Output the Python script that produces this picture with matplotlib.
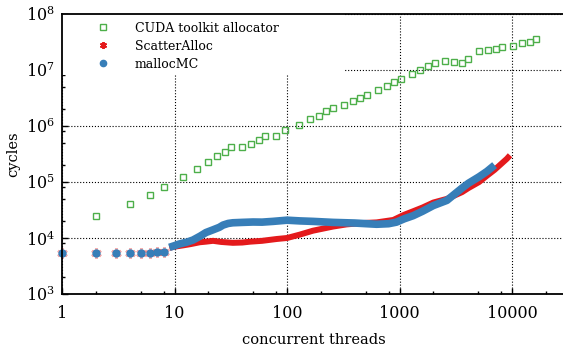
import matplotlib
matplotlib.use("Agg")
import matplotlib.pyplot as plt
import matplotlib.ticker as mticker
from matplotlib.patches import Rectangle

plt.rcParams["font.family"] = "DejaVu Serif"
plt.rcParams["mathtext.fontset"] = "dejavuserif"

# ── Daten ────────────────────────────────────────────────────────────────────
cuda_threads = [2, 4, 6, 8, 12, 16, 20, 24, 28, 32, 40, 48, 56, 64, 80, 96,
                128, 160, 192, 224, 256, 320, 384, 448, 512, 640, 768, 896,
                1024, 1280, 1536, 1792, 2048, 2560, 3072, 3584, 4096, 5120,
                6144, 7168, 8192, 10240, 12288, 14336, 16384]
cuda_cycles = [2.5e4, 4.0e4, 5.9e4, 8.2e4, 1.24e5, 1.7e5, 2.25e5, 2.9e5, 3.5e5,
               4.2e5, 4.3e5, 4.7e5, 5.6e5, 6.5e5, 6.7e5, 8.5e5, 1.05e6, 1.33e6,
               1.53e6, 1.88e6, 2.1e6, 2.37e6, 2.83e6, 3.2e6, 3.6e6, 4.4e6,
               5.2e6, 6.2e6, 6.9e6, 8.5e6, 1.01e7, 1.18e7, 1.35e7, 1.44e7,
               1.41e7, 1.32e7, 1.59e7, 2.2e7, 2.3e7, 2.4e7, 2.6e7, 2.7e7,
               3.0e7, 3.2e7, 3.6e7]

# einzelne Punkte bei wenigen Threads
low_threads = [1, 2, 3, 4, 5, 6, 7, 8]
scatter_low = [5.5e3, 5.5e3, 5.5e3, 5.5e3, 5.5e3, 5.5e3, 5.6e3, 5.7e3]
malloc_low = [5.5e3, 5.5e3, 5.5e3, 5.5e3, 5.5e3, 5.5e3, 5.6e3, 5.7e3]

# dichter Bereich ab ~9 Threads
scatter_threads = [9, 10, 12, 14, 16.8, 19, 22, 26, 33, 40, 47, 60, 81, 100,
                   130, 170, 256, 339, 470, 626, 880, 1100, 1320, 1600, 2000,
                   2640, 3000, 3600, 4100, 5100, 6000, 7000, 8000, 9000, 9600]
scatter_cycles = [6.7e3, 7.0e3, 7.4e3, 7.8e3, 8.4e3, 8.6e3, 8.9e3, 8.5e3, 8.2e3,
                  8.3e3, 8.6e3, 8.9e3, 9.6e3, 1.0e4, 1.15e4, 1.35e4, 1.6e4,
                  1.75e4, 1.85e4, 1.9e4, 2.1e4, 2.6e4, 3.0e4, 3.5e4, 4.3e4,
                  5.0e4, 5.6e4, 6.6e4, 7.8e4, 1.0e5, 1.3e5, 1.65e5, 2.1e5,
                  2.6e5, 3.0e5]

malloc_threads = [9, 10, 11, 12.8, 14.6, 16.9, 19, 22, 25, 27, 30, 33, 40, 50,
                  60, 75, 100, 130, 170, 256, 400, 626, 800, 940, 1100, 1320,
                  1600, 2000, 2640, 3000, 3600, 4100, 5100, 6000, 7000]
malloc_cycles = [6.8e3, 7.3e3, 7.8e3, 8.4e3, 9.2e3, 1.08e4, 1.25e4, 1.4e4,
                 1.55e4, 1.7e4, 1.82e4, 1.87e4, 1.9e4, 1.93e4, 1.92e4, 1.98e4,
                 2.08e4, 2.02e4, 1.98e4, 1.9e4, 1.85e4, 1.76e4, 1.8e4, 1.92e4,
                 2.2e4, 2.5e4, 3.0e4, 3.8e4, 4.7e4, 5.8e4, 7.8e4, 9.5e4,
                 1.24e5, 1.55e5, 2.0e5]

GREEN = "#4daf4a"
RED = "#e41a1c"
BLUE = "#377eb8"

# ── Grafik ──────────────────────────────────────────────────────────────────
fig = plt.figure(figsize=(5.63, 3.49), dpi=100)
ax = fig.add_axes([62 / 563, 1 - 294 / 349, 503.7 / 563, 280 / 349])

ax.plot(cuda_threads, cuda_cycles, ls="none", marker="s", ms=4.5, mfc="none",
        mec=GREEN, mew=1.0, zorder=3)

ax.plot(scatter_threads, scatter_cycles, color=RED, lw=4.3,
        solid_capstyle="butt", zorder=3)
ax.plot(low_threads, scatter_low, ls="none", marker=(6, 2, 0), ms=7.5,
        mec=RED, mfc=RED, mew=1.8, alpha=0.35, zorder=3, clip_on=False)

ax.plot(malloc_threads, malloc_cycles, color=BLUE, lw=5.5,
        solid_capstyle="butt", zorder=3)
ax.plot(low_threads, malloc_low, ls="none", marker="o", ms=5, color=BLUE,
        zorder=4, clip_on=False)

# weißer Hintergrund hinter der Legende (verdeckt das Gitter)
ax.add_patch(Rectangle((0, 0.782), 0.562, 0.218, transform=ax.transAxes,
                       facecolor="white", edgecolor="none", zorder=1))

# Legenden-Proxies
h_cuda = plt.Line2D([], [], ls="none", marker="s", ms=4.5, mfc="none",
                    mec=GREEN, mew=1.0)
h_scat = plt.Line2D([], [], ls="none", marker=(6, 2, 0), ms=5, mec=RED,
                    mew=1.4)
h_mall = plt.Line2D([], [], ls="none", marker="o", ms=4.5, color=BLUE)

ax.set_xscale("log")
ax.set_yscale("log")
ax.set_xlim(1, 30000)
ax.set_ylim(1e3, 1e8)

ax.xaxis.set_major_locator(mticker.FixedLocator([1, 10, 100, 1000, 10000]))
ax.xaxis.set_major_formatter(mticker.FuncFormatter(lambda v, _: f"{v:g}"))
ax.xaxis.set_minor_locator(mticker.LogLocator(base=10, subs=(2, 5, 8), numticks=20))
ax.xaxis.set_minor_formatter(mticker.NullFormatter())
ax.yaxis.set_major_locator(mticker.LogLocator(base=10, numticks=10))
ax.yaxis.set_minor_locator(mticker.LogLocator(base=10, subs=(2, 5, 8), numticks=20))
ax.yaxis.set_minor_formatter(mticker.NullFormatter())

ax.tick_params(which="both", direction="in", top=False, right=False,
               labelsize=11.5, width=1.0)
ax.tick_params(which="major", length=4)
ax.tick_params(axis="x", which="major", pad=8)
ax.tick_params(axis="y", which="major", pad=5)
ax.tick_params(which="minor", length=2.5)
for s in ax.spines.values():
    s.set_linewidth(1.3)
    s.set_zorder(5)

ax.grid(which="major", ls=":", color="k", lw=0.8)
ax.set_axisbelow(True)

ax.set_xlabel("concurrent threads", fontsize=10.5, labelpad=8)
ax.set_ylabel("cycles", fontsize=10.5)

leg = ax.legend([h_cuda, h_scat, h_mall],
                ["CUDA toolkit allocator", "ScatterAlloc", "mallocMC"],
                loc="upper left", bbox_to_anchor=(0.0566, 0.9725),
                borderaxespad=0, borderpad=0, frameon=False,
                fontsize=9, handlelength=2.0, handletextpad=1.56,
                labelspacing=0.4)

fig.savefig("out.png", dpi=100)
